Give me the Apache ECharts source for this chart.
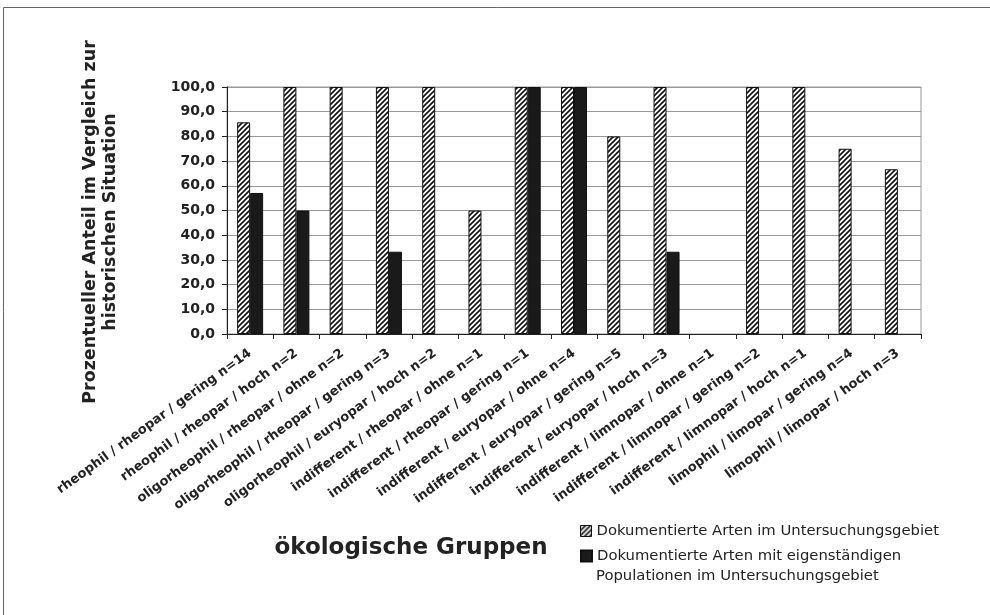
<!DOCTYPE html>
<html>
<head>
<meta charset="utf-8">
<script src="https://cdn.jsdelivr.net/npm/echarts@6/dist/echarts.min.js"></script>
<style>html,body{margin:0;padding:0;background:#fff}#c{width:990px;height:615px}</style>
</head>
<body>
<div id="c"></div>
<script>
const categories = [
  'rheophil / rheopar / gering n=14',
  'rheophil / rheopar / hoch n=2',
  'oligorheophil / rheopar / ohne n=2',
  'oligorheophil / rheopar / gering n=3',
  'oligorheophil / euryopar / hoch n=2',
  'indifferent / rheopar / ohne n=1',
  'indifferent / rheopar / gering n=1',
  'indifferent / euryopar / ohne n=4',
  'indifferent / euryopar / gering n=5',
  'indifferent / euryopar / hoch n=3',
  'indifferent / limnopar / ohne n=1',
  'indifferent / limnopar / gering n=2',
  'indifferent / limnopar / hoch n=1',
  'limophil / limopar / gering n=4',
  'limophil / limopar / hoch n=3'
];
const dokumentiert = [85.7, 100, 100, 100, 100, 50, 100, 100, 80, 100, 0, 100, 100, 75, 66.7];
const eigenstaendig = [57.1, 50, 0, 33.3, 0, 0, 100, 100, 0, 33.3, 0, 0, 0, 0, 0];
const seriesNames = ['Dokumentierte Arten im Untersuchungsgebiet', 'Dokumentierte Arten mit eigenständigen Populationen im Untersuchungsgebiet'];
const legendLines2 = ['Dokumentierte Arten mit eigenständigen', 'Populationen im Untersuchungsgebiet'];
const yTitle = 'Prozentueller Anteil im Vergleich zur\nhistorischen Situation';
const xTitle = 'ökologische Gruppen';

const FONT = 'DejaVu Sans, Liberation Sans, sans-serif';

// hatch pattern
const pc = document.createElement('canvas');
pc.width = 5; pc.height = 5;
const g = pc.getContext('2d');
g.fillStyle = '#fff'; g.fillRect(0, 0, 5, 5);
g.strokeStyle = '#111'; g.lineWidth = 1.6;
g.beginPath();
g.moveTo(-1, 6); g.lineTo(6, -1);
g.moveTo(-1, 1); g.lineTo(1, -1);
g.moveTo(4, 6); g.lineTo(6, 4);
g.stroke();

const noZero = arr => arr.map(v => (v === 0 ? null : v));

const chart = echarts.init(document.getElementById('c'), null, {renderer: 'canvas'});
const fmt = v => v.toFixed(1).replace('.', ',');
const legendText = {fontSize: 14.8, color: '#222', fontFamily: FONT, lineHeight: 20};
chart.setOption({
  animation: false,
  backgroundColor: '#fff',
  textStyle: {fontFamily: FONT},
  grid: {left: 227, right: 69, top: 87, bottom: 281, show: true, borderColor: '#999', borderWidth: 1},
  legend: [
    {left: 580, top: 521, padding: 0, itemWidth: 11, itemHeight: 11, icon: 'rect', textStyle: legendText,
     data: [{name: seriesNames[0], itemStyle: {borderColor: '#111', borderWidth: 1}}]},
    {left: 580, top: 546, padding: 0, itemWidth: 11, itemHeight: 11, icon: 'rect', textStyle: legendText,
     formatter: () => legendLines2[0],
     data: [{name: seriesNames[1]}]}
  ],
  xAxis: {
    type: 'category', data: categories, boundaryGap: true,
    axisLine: {lineStyle: {color: '#222', width: 1}},
    axisTick: {show: true, length: 5, lineStyle: {color: '#222'}},
    axisLabel: {rotate: 36, interval: 0, fontSize: 13, fontWeight: 'bold', color: '#222', margin: 18, fontFamily: FONT}
  },
  yAxis: {
    type: 'value', min: 0, max: 100, interval: 10,
    axisLine: {show: true, lineStyle: {color: '#222'}},
    axisTick: {show: true, length: 5, lineStyle: {color: '#222'}},
    axisLabel: {formatter: fmt, fontSize: 14, fontWeight: 'bold', color: '#222', margin: 12, fontFamily: FONT},
    splitLine: {lineStyle: {color: '#999', width: 1}}
  },
  graphic: [
    {type: 'rect', shape: {x: 3.5, y: 7.5, width: 1000, height: 1000}, style: {fill: 'none', stroke: '#666', lineWidth: 1}, silent: true},
    {type: 'text', x: 100, y: 222, rotation: Math.PI / 2,
     style: {text: yTitle, fontSize: 17.5, fontWeight: 'bold', fill: '#222', align: 'center', verticalAlign: 'middle', lineHeight: 20, fontFamily: FONT}},
    {type: 'text', x: 411, y: 548,
     style: {text: xTitle, fontSize: 23, fontWeight: 'bold', fill: '#222', align: 'center', verticalAlign: 'middle', fontFamily: FONT}},
    {type: 'text', x: 596, y: 576,
     style: {text: legendLines2[1], fontSize: 14.8, fill: '#222', align: 'left', verticalAlign: 'middle', fontFamily: FONT}}
  ],
  series: [
    {name: seriesNames[0], type: 'bar', data: noZero(dokumentiert), barWidth: 13, barGap: '0%',
     itemStyle: {color: {image: pc, repeat: 'repeat'}, borderColor: '#111', borderWidth: 1}},
    {name: seriesNames[1], type: 'bar', data: noZero(eigenstaendig), barWidth: 13,
     itemStyle: {color: '#1a1a1a', borderColor: '#111', borderWidth: 1}}
  ]
});
</script>
</body>
</html>
